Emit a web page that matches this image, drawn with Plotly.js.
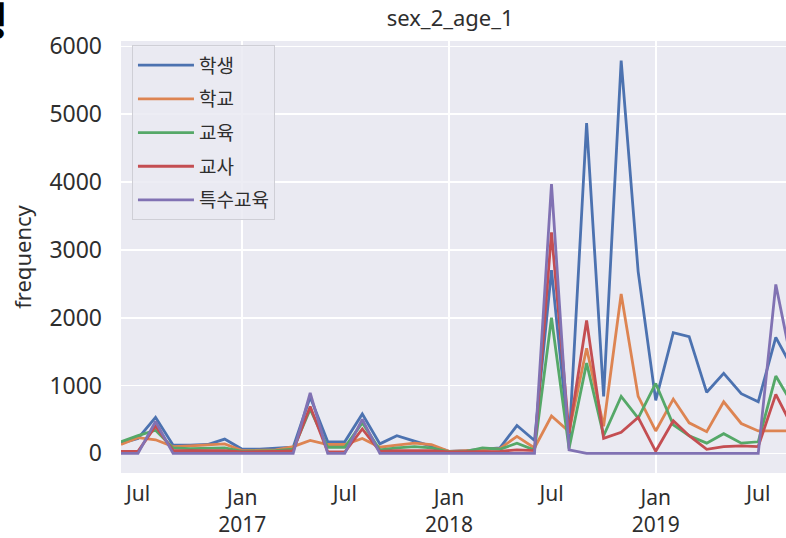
<!DOCTYPE html>
<html><head><meta charset="utf-8">
<script src="https://cdn.plot.ly/plotly-3.0.1.min.js"></script>
<style>html,body{margin:0;padding:0;background:#fff;overflow:hidden;} #chart{width:786px;height:538px;}</style>
</head><body><div id="chart"></div>
<script>
// Monthly periods, Jun 2016 - Sep 2019
const months = [
 '2016-06-01','2016-07-01','2016-08-01','2016-09-01','2016-10-01','2016-11-01','2016-12-01',
 '2017-01-01','2017-02-01','2017-03-01','2017-04-01','2017-05-01','2017-06-01','2017-07-01',
 '2017-08-01','2017-09-01','2017-10-01','2017-11-01','2017-12-01',
 '2018-01-01','2018-02-01','2018-03-01','2018-04-01','2018-05-01','2018-06-01','2018-07-01',
 '2018-08-01','2018-09-01','2018-10-01','2018-11-01','2018-12-01',
 '2019-01-01','2019-02-01','2019-03-01','2019-04-01','2019-05-01','2019-06-01','2019-07-01',
 '2019-08-01','2019-09-01'
];
const student = [150,220,530,120,120,130,210, 60,60,70,90,830,170,170, 580,140,260,180,110,
 30,40,60,80,410,190,2700, 150,4870,840,5790,2680, 780,1780,1720,900,1180,880,760, 1710,1230];
const school = [130,230,200,100,110,120,140, 40,40,50,100,190,130,130, 220,90,120,150,130,
 30,40,50,70,250,80,550, 320,1550,400,2350,840, 330,800,450,320,760,440,330, 330,330];
const education = [170,260,340,80,70,70,80, 30,30,40,60,650,90,90, 450,50,80,100,80,
 20,30,80,60,150,50,2000, 70,1330,260,840,520, 1030,420,260,150,290,150,170, 1140,700];
const teacher = [30,30,400,40,40,40,40, 20,20,30,40,690,20,20, 360,30,40,40,40,
 20,20,30,30,50,40,3260, 300,1960,220,310,530, 30,480,260,60,100,110,100, 870,360];
const specialEd = [0,0,470,0,0,0,0, 0,0,0,0,890,0,0, 500,0,0,0,0,
 0,0,0,0,0,0,3970, 50,0,0,0,0, 0,0,0,0,0,0,0, 2490,1210];

const seriesNames = ['학생','학교','교육','교사','특수교육'];
const seriesValues = [student, school, education, teacher, specialEd];
const colors = ['#4C72B0','#DD8452','#55A868','#C44E52','#8172B3'];

const janTicks = ['2017-01-01','2018-01-01','2019-01-01'];
const janText = ['Jan<br>2017','Jan<br>2018','Jan<br>2019'];
const julTicks = ['2016-07-01','2017-07-01','2018-07-01','2019-07-01'];
const julText = ['Jul','Jul','Jul','Jul'];
const yTicks = [0,1000,2000,3000,4000,5000,6000];

const xRange = ['2016-06-01','2019-08-19'];
const txt = '#2e2e2e';
const numFont = 'Noto Sans, DejaVu Sans, sans-serif';
const krFont = 'Noto Sans CJK KR, Noto Sans, sans-serif';

const traces = seriesNames.map((name, i) => ({
  type: 'scatter', mode: 'lines', name: name, legendgroup: 'g' + i,
  x: months, y: seriesValues[i], xaxis: 'x', yaxis: 'y',
  line: {color: colors[i], width: 2.8}
}));
// carrier for the minor (Jul) tick axis, draws nothing
traces.push({type: 'scatter', mode: 'lines', x: months, y: months.map(() => null),
  xaxis: 'x2', yaxis: 'y', showlegend: false, hoverinfo: 'skip'});

const layout = {
  width: 786, height: 538,
  margin: {l: 121, r: 0, t: 41, b: 65, pad: 0},
  paper_bgcolor: '#ffffff', plot_bgcolor: '#EAEAF2',
  showlegend: true,
  title: {text: 'sex_2_age_1', x: 0.495, xref: 'paper', xanchor: 'center',
          y: 1 - 18/538, yref: 'container', yanchor: 'middle',
          font: {family: numFont, size: 22, color: txt}},
  xaxis: {type: 'date', range: xRange, tickmode: 'array', tickvals: janTicks, ticktext: janText,
          showgrid: true, gridcolor: '#ffffff', gridwidth: 1.6, zeroline: false, showline: false,
          ticks: '', ticklabelstandoff: 10, tickfont: {family: numFont, size: 21, color: txt},
          anchor: 'y'},
  xaxis2: {type: 'date', range: xRange, overlaying: 'x', side: 'bottom', anchor: 'y',
          tickmode: 'array', tickvals: julTicks, ticktext: julText,
          showgrid: false, zeroline: false, showline: false, ticks: '', ticklabelstandoff: 6,
          tickfont: {family: numFont, size: 21, color: txt}},
  yaxis: {range: [-290, 6080], tickmode: 'array', tickvals: yTicks,
          showgrid: true, gridcolor: '#ffffff', gridwidth: 1.6, zeroline: false, showline: false,
          ticks: '', ticklabelstandoff: 18, tickfont: {family: numFont, size: 23, color: txt},
          title: {text: 'frequency', standoff: 11, font: {family: numFont, size: 22, color: txt}}},
  legend: {x: 0.0165, y: 0.99, xanchor: 'left', yanchor: 'top',
           bgcolor: 'rgba(234,234,242,0.85)', bordercolor: '#cfcfd6', borderwidth: 1,
           itemwidth: 56,
           font: {family: krFont, size: 19, color: txt}, traceorder: 'grouped', tracegroupgap: 6},
  annotations: [{text: '<b>형</b>', xref: 'paper', yref: 'paper', x: (10 - 121)/665, y: (473 + 12)/432,
                 xanchor: 'right', yanchor: 'top', showarrow: false,
                 font: {family: krFont, size: 40, color: '#000000'}}]
};

Plotly.newPlot('chart', traces, layout, {staticPlot: true, displayModeBar: false});
</script>
</body></html>
